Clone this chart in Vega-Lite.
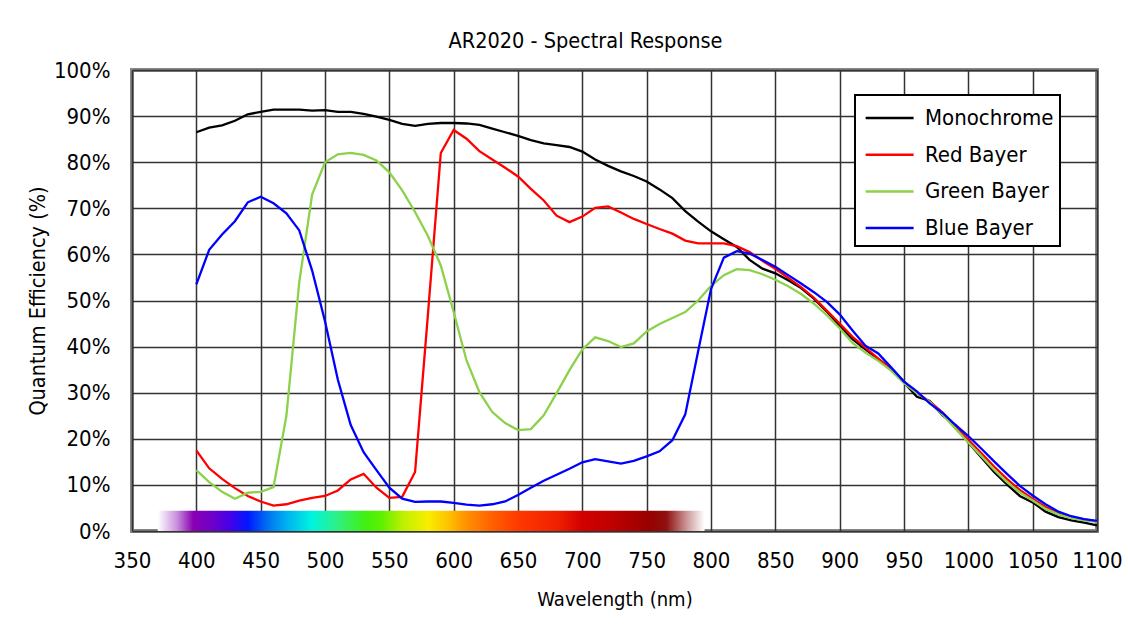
{
  "$schema": "https://vega.github.io/schema/vega-lite/v6.json",
  "width": 965,
  "height": 461,
  "padding": {"left": 27, "top": 30, "right": 20, "bottom": 10},
  "background": "white",
  "title": {"text": "AR2020 - Spectral Response", "fontSize": 21.5, "fontWeight": "normal", "color": "black", "offset": 7, "anchor": "middle", "frame": "group", "dx": -29},
  "config": {
    "font": "DejaVu Sans Condensed, sans-serif",
    "view": {"stroke": "#878787", "strokeWidth": 4},
    "axis": {"labelColor": "black", "titleColor": "black", "titleFontWeight": "normal", "labelFontSize": 22, "gridColor": "#333333", "gridWidth": 1.5, "gridOpacity": 1, "ticks": false, "tickSize": 0, "domain": false},
    "axisX": {"titleFontSize": 20},
    "axisY": {"titleFontSize": 21.5}
  },
  "datasets": {
    "qe": [
      {"nm": 400, "Monochrome": 86.5, "Red Bayer": 17.5, "Green Bayer": 13.2, "Blue Bayer": 53.5},
      {"nm": 410, "Monochrome": 87.5, "Red Bayer": 13.6, "Green Bayer": 10.6, "Blue Bayer": 61.0},
      {"nm": 420, "Monochrome": 88.0, "Red Bayer": 11.3, "Green Bayer": 8.5, "Blue Bayer": 64.3},
      {"nm": 430, "Monochrome": 89.0, "Red Bayer": 9.3, "Green Bayer": 7.0, "Blue Bayer": 67.2},
      {"nm": 440, "Monochrome": 90.4, "Red Bayer": 7.6, "Green Bayer": 8.3, "Blue Bayer": 71.3},
      {"nm": 450, "Monochrome": 90.9, "Red Bayer": 6.4, "Green Bayer": 8.5, "Blue Bayer": 72.5},
      {"nm": 460, "Monochrome": 91.4, "Red Bayer": 5.5, "Green Bayer": 9.5, "Blue Bayer": 71.1},
      {"nm": 470, "Monochrome": 91.4, "Red Bayer": 5.8, "Green Bayer": 25.0, "Blue Bayer": 68.9},
      {"nm": 480, "Monochrome": 91.4, "Red Bayer": 6.6, "Green Bayer": 54.0, "Blue Bayer": 65.2},
      {"nm": 490, "Monochrome": 91.2, "Red Bayer": 7.2, "Green Bayer": 73.0, "Blue Bayer": 56.5},
      {"nm": 500, "Monochrome": 91.3, "Red Bayer": 7.6, "Green Bayer": 80.0, "Blue Bayer": 45.5},
      {"nm": 510, "Monochrome": 90.9, "Red Bayer": 8.8, "Green Bayer": 81.7, "Blue Bayer": 32.8},
      {"nm": 520, "Monochrome": 90.9, "Red Bayer": 11.2, "Green Bayer": 82.0, "Blue Bayer": 23.0},
      {"nm": 530, "Monochrome": 90.5, "Red Bayer": 12.4, "Green Bayer": 81.6, "Blue Bayer": 17.1},
      {"nm": 540, "Monochrome": 89.9, "Red Bayer": 9.4, "Green Bayer": 80.4, "Blue Bayer": 13.2},
      {"nm": 550, "Monochrome": 89.2, "Red Bayer": 7.2, "Green Bayer": 77.8, "Blue Bayer": 9.4},
      {"nm": 560, "Monochrome": 88.3, "Red Bayer": 7.4, "Green Bayer": 73.9, "Blue Bayer": 7.0},
      {"nm": 570, "Monochrome": 87.9, "Red Bayer": 12.8, "Green Bayer": 69.2, "Blue Bayer": 6.3},
      {"nm": 580, "Monochrome": 88.3, "Red Bayer": 47.0, "Green Bayer": 64.0, "Blue Bayer": 6.4},
      {"nm": 590, "Monochrome": 88.5, "Red Bayer": 82.0, "Green Bayer": 57.6, "Blue Bayer": 6.4},
      {"nm": 600, "Monochrome": 88.5, "Red Bayer": 87.0, "Green Bayer": 47.5, "Blue Bayer": 6.1},
      {"nm": 610, "Monochrome": 88.4, "Red Bayer": 85.1, "Green Bayer": 37.0, "Blue Bayer": 5.7},
      {"nm": 620, "Monochrome": 88.1, "Red Bayer": 82.4, "Green Bayer": 30.1, "Blue Bayer": 5.5},
      {"nm": 630, "Monochrome": 87.3, "Red Bayer": 80.6, "Green Bayer": 25.8, "Blue Bayer": 5.8},
      {"nm": 640, "Monochrome": 86.5, "Red Bayer": 78.8, "Green Bayer": 23.4, "Blue Bayer": 6.4},
      {"nm": 650, "Monochrome": 85.7, "Red Bayer": 76.9, "Green Bayer": 21.9, "Blue Bayer": 7.8},
      {"nm": 660, "Monochrome": 84.8, "Red Bayer": 74.2, "Green Bayer": 22.1, "Blue Bayer": 9.4},
      {"nm": 670, "Monochrome": 84.1, "Red Bayer": 71.7, "Green Bayer": 25.1, "Blue Bayer": 10.9},
      {"nm": 680, "Monochrome": 83.7, "Red Bayer": 68.4, "Green Bayer": 29.9, "Blue Bayer": 12.2},
      {"nm": 690, "Monochrome": 83.3, "Red Bayer": 67.0, "Green Bayer": 34.9, "Blue Bayer": 13.5},
      {"nm": 700, "Monochrome": 82.3, "Red Bayer": 68.2, "Green Bayer": 39.4, "Blue Bayer": 14.9},
      {"nm": 710, "Monochrome": 80.6, "Red Bayer": 70.1, "Green Bayer": 42.0, "Blue Bayer": 15.6},
      {"nm": 720, "Monochrome": 79.2, "Red Bayer": 70.4, "Green Bayer": 41.2, "Blue Bayer": 15.1},
      {"nm": 730, "Monochrome": 78.0, "Red Bayer": 69.1, "Green Bayer": 39.9, "Blue Bayer": 14.6},
      {"nm": 740, "Monochrome": 77.0, "Red Bayer": 67.7, "Green Bayer": 40.7, "Blue Bayer": 15.2},
      {"nm": 750, "Monochrome": 75.8, "Red Bayer": 66.6, "Green Bayer": 43.3, "Blue Bayer": 16.2},
      {"nm": 760, "Monochrome": 74.1, "Red Bayer": 65.5, "Green Bayer": 44.9, "Blue Bayer": 17.3},
      {"nm": 770, "Monochrome": 72.2, "Red Bayer": 64.5, "Green Bayer": 46.2, "Blue Bayer": 19.7},
      {"nm": 780, "Monochrome": 69.4, "Red Bayer": 63.0, "Green Bayer": 47.5, "Blue Bayer": 25.3},
      {"nm": 790, "Monochrome": 67.1, "Red Bayer": 62.4, "Green Bayer": 50.0, "Blue Bayer": 39.0},
      {"nm": 800, "Monochrome": 65.0, "Red Bayer": 62.4, "Green Bayer": 53.2, "Blue Bayer": 52.5},
      {"nm": 810, "Monochrome": 63.3, "Red Bayer": 62.4, "Green Bayer": 55.5, "Blue Bayer": 59.3},
      {"nm": 820, "Monochrome": 61.6, "Red Bayer": 61.8, "Green Bayer": 56.8, "Blue Bayer": 60.7},
      {"nm": 830, "Monochrome": 58.8, "Red Bayer": 60.5, "Green Bayer": 56.6, "Blue Bayer": 60.2},
      {"nm": 840, "Monochrome": 56.9, "Red Bayer": 58.6, "Green Bayer": 55.7, "Blue Bayer": 58.8},
      {"nm": 850, "Monochrome": 55.9, "Red Bayer": 56.9, "Green Bayer": 54.5, "Blue Bayer": 57.3},
      {"nm": 860, "Monochrome": 54.4, "Red Bayer": 54.9, "Green Bayer": 53.1, "Blue Bayer": 55.5},
      {"nm": 870, "Monochrome": 52.7, "Red Bayer": 52.9, "Green Bayer": 51.4, "Blue Bayer": 53.7},
      {"nm": 880, "Monochrome": 50.4, "Red Bayer": 50.6, "Green Bayer": 49.3, "Blue Bayer": 51.8},
      {"nm": 890, "Monochrome": 47.6, "Red Bayer": 47.8, "Green Bayer": 46.8, "Blue Bayer": 49.7},
      {"nm": 900, "Monochrome": 44.5, "Red Bayer": 45.0, "Green Bayer": 44.0, "Blue Bayer": 47.0},
      {"nm": 910, "Monochrome": 41.6, "Red Bayer": 42.1, "Green Bayer": 40.8, "Blue Bayer": 43.5},
      {"nm": 920, "Monochrome": 39.4, "Red Bayer": 39.8, "Green Bayer": 38.7, "Blue Bayer": 40.2},
      {"nm": 930, "Monochrome": 37.3, "Red Bayer": 37.4, "Green Bayer": 36.9, "Blue Bayer": 38.5},
      {"nm": 940, "Monochrome": 35.1, "Red Bayer": 35.2, "Green Bayer": 34.8, "Blue Bayer": 35.5},
      {"nm": 950, "Monochrome": 32.2, "Red Bayer": 32.4, "Green Bayer": 32.1, "Blue Bayer": 32.4},
      {"nm": 960, "Monochrome": 29.1, "Red Bayer": 29.9, "Green Bayer": 29.9, "Blue Bayer": 30.3},
      {"nm": 970, "Monochrome": 28.2, "Red Bayer": 28.1, "Green Bayer": 28.0, "Blue Bayer": 27.7},
      {"nm": 980, "Monochrome": 25.1, "Red Bayer": 25.7, "Green Bayer": 25.2, "Blue Bayer": 25.6},
      {"nm": 990, "Monochrome": 23.0, "Red Bayer": 22.7, "Green Bayer": 22.2, "Blue Bayer": 23.0},
      {"nm": 1000, "Monochrome": 19.2, "Red Bayer": 19.8, "Green Bayer": 19.2, "Blue Bayer": 20.6},
      {"nm": 1010, "Monochrome": 16.0, "Red Bayer": 16.9, "Green Bayer": 16.3, "Blue Bayer": 17.9},
      {"nm": 1020, "Monochrome": 12.8, "Red Bayer": 14.0, "Green Bayer": 13.3, "Blue Bayer": 15.1},
      {"nm": 1030, "Monochrome": 10.1, "Red Bayer": 11.3, "Green Bayer": 10.6, "Blue Bayer": 12.4},
      {"nm": 1040, "Monochrome": 7.6, "Red Bayer": 8.9, "Green Bayer": 8.4, "Blue Bayer": 9.8},
      {"nm": 1050, "Monochrome": 6.2, "Red Bayer": 7.0, "Green Bayer": 6.6, "Blue Bayer": 7.7},
      {"nm": 1060, "Monochrome": 4.2, "Red Bayer": 5.2, "Green Bayer": 4.8, "Blue Bayer": 5.8},
      {"nm": 1070, "Monochrome": 3.0, "Red Bayer": 3.9, "Green Bayer": 3.6, "Blue Bayer": 4.2},
      {"nm": 1080, "Monochrome": 2.3, "Red Bayer": 3.0, "Green Bayer": 2.8, "Blue Bayer": 3.2},
      {"nm": 1090, "Monochrome": 1.8, "Red Bayer": 2.5, "Green Bayer": 2.3, "Blue Bayer": 2.6},
      {"nm": 1100, "Monochrome": 1.2, "Red Bayer": 2.1, "Green Bayer": 2.0, "Blue Bayer": 2.2}
    ],
    "band": [{"band": "visible spectrum", "from": 370, "to": 795, "bottom": 0, "top": 4.4}]
  },
  "layer": [
    {
      "data": {"name": "band"},
      "mark": {"type": "rect", "fill": {"gradient": "linear", "x1": 0, "x2": 1, "y1": 0, "y2": 0, "stops": [
        {"offset": 0, "color": "#ffffff"},
        {"offset": 0.035, "color": "#c890dc"},
        {"offset": 0.065, "color": "#8a00b4"},
        {"offset": 0.1, "color": "#6e00c8"},
        {"offset": 0.13, "color": "#4800e8"},
        {"offset": 0.165, "color": "#0018ff"},
        {"offset": 0.2, "color": "#0070f0"},
        {"offset": 0.235, "color": "#00b0f0"},
        {"offset": 0.282, "color": "#00f4e0"},
        {"offset": 0.33, "color": "#30f080"},
        {"offset": 0.38, "color": "#40f010"},
        {"offset": 0.41, "color": "#60f000"},
        {"offset": 0.45, "color": "#c0f000"},
        {"offset": 0.494, "color": "#f8ee00"},
        {"offset": 0.53, "color": "#ffc400"},
        {"offset": 0.565, "color": "#ff9000"},
        {"offset": 0.612, "color": "#ff6000"},
        {"offset": 0.66, "color": "#ff3800"},
        {"offset": 0.73, "color": "#f02000"},
        {"offset": 0.776, "color": "#d20000"},
        {"offset": 0.83, "color": "#c00000"},
        {"offset": 0.9, "color": "#980000"},
        {"offset": 0.93, "color": "#901010"},
        {"offset": 0.97, "color": "#d0a0a0"},
        {"offset": 1, "color": "#ffffff"}
      ]}},
      "encoding": {
        "x": {"field": "from", "type": "quantitative"},
        "x2": {"field": "to"},
        "y": {"field": "bottom", "type": "quantitative"},
        "y2": {"field": "top"}
      }
    },
    {
      "data": {"name": "qe"},
      "transform": [{"fold": ["Monochrome", "Red Bayer", "Green Bayer", "Blue Bayer"], "as": ["series", "qe"]}],
      "mark": {"type": "line", "strokeWidth": 2.3},
      "encoding": {
        "x": {"field": "nm", "type": "quantitative", "scale": {"domain": [350, 1100], "nice": false, "zero": false}, "axis": {"values": [350, 400, 450, 500, 550, 600, 650, 700, 750, 800, 850, 900, 950, 1000, 1050, 1100], "format": "d", "title": "Wavelength (nm)", "labelPadding": 19, "titlePadding": 18, "grid": true, "labelFlush": false}},
        "y": {"field": "qe", "type": "quantitative", "scale": {"domain": [0, 100], "nice": false}, "axis": {"values": [0, 10, 20, 30, 40, 50, 60, 70, 80, 90, 100], "labelExpr": "datum.value + '%'", "title": "Quantum Efficiency (%)", "labelPadding": 22, "titlePadding": 4, "grid": true, "labelFlush": false}},
        "color": {"field": "series", "type": "nominal", "sort": ["Monochrome", "Red Bayer", "Green Bayer", "Blue Bayer"], "scale": {"domain": ["Monochrome", "Red Bayer", "Green Bayer", "Blue Bayer"], "range": ["#000000", "#ff0000", "#8cd14a", "#0000ff"]},
          "legend": {"orient": "none", "legendX": 723, "legendY": 25, "title": null, "symbolType": "M-0.805,0H2.32", "symbolSize": 942, "symbolStrokeWidth": 2.5, "labelFontSize": 22, "labelColor": "black", "labelOffset": 30, "padding": 6, "rowPadding": 8.7, "strokeColor": "black", "fillColor": "white",
            "encode": {"legend": {"update": {"strokeWidth": {"value": 2}}}}}}
      }
    }
  ]
}
